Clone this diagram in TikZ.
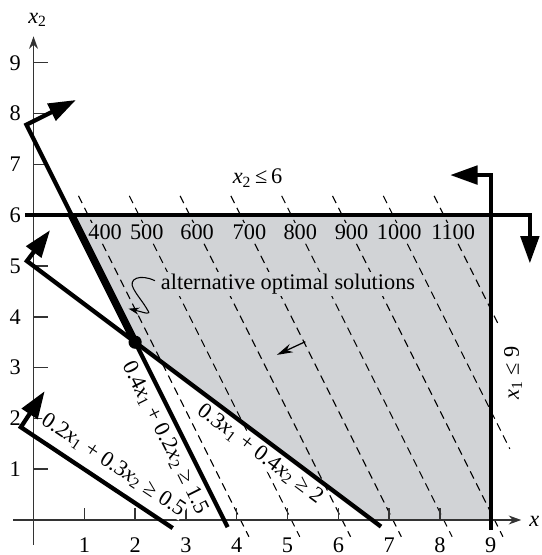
\documentclass[tikz,border=0pt]{standalone}
\usepackage{fontspec}
\setmainfont{Liberation Serif}
\usetikzlibrary{arrows.meta}
\definecolor{regionfill}{RGB}{209,211,214}
\newcommand\xv[1]{\textit{x}\textsubscript{#1}}
\begin{document}
\begin{tikzpicture}[x=1cm,y=1cm,
  font=\fontsize{12.5}{14}\selectfont,
  thickline/.style={line width=2.4pt, line join=miter},
  bigarrow/.style={-{Triangle[length=0.54cm,width=0.36cm]}},
  isoline/.style={line width=0.6pt, dash pattern=on 4.5pt off 3pt},
  axisline/.style={line width=0.8pt, black!80},
  axtick/.style={line width=0.8pt, black!80},
  ticklbl/.style={inner sep=0.5pt},
  costlbl/.style={fill=regionfill, inner sep=1pt},
  conlbl/.style={fill=white, inner sep=0.5pt}]
\useasboundingbox (-0.66,-0.689) rectangle (9.99,10.236);
% feasible region
\coordinate (P1) at (0.75,6);
\coordinate (P2) at (2,3.5);
\coordinate (P3) at (6.6667,0);
\coordinate (P4) at (9,0);
\coordinate (P5) at (9,6);
\fill[regionfill] (P1) -- (P2) -- (P3) -- (P4) -- (P5) -- cycle;
% iso-cost lines
\foreach \c/\b in {400/-0.33,500/-0.33,600/-0.33,700/-0.33,800/-0.33,900/-0.33,1000/1.4,1100/3.8}{
  \pgfmathsetmacro\k{\c/50+0.15}
  \draw[isoline] ({(\k-6.38)/2},6.38) -- ({(\k-\b)/2},\b);
}
% axes
\draw[axisline,-{Stealth[length=7pt,width=5pt]}] (-0.4,0) -- (9.6,0);
\draw[axisline,-{Stealth[length=7pt,width=5pt]}] (0,-0.49) -- (0,9.52);
\foreach \i in {1,...,8}{\draw[axtick] (\i,0) -- (\i,0.23);}
\foreach \i in {1,...,9}{\node[ticklbl] (xl\i) at (\i,-0.5) {\i};}
\foreach \j in {1,...,9}{\draw[axtick] (0,\j) -- (0.28,\j); \node[ticklbl] (yl\j) at (-0.36,\j) {\j};}
\node[ticklbl] (xlab) at (9.86,-0.03) {\textit{x}};
\node[ticklbl] (ylab) at (0.08,9.84) {\xv{2}};
% cost labels
\node[costlbl] (c400) at (1.41,5.67) {400};
\node[costlbl] (c500) at (2.23,5.67) {500};
\node[costlbl] (c600) at (3.22,5.67) {600};
\node[costlbl] (c700) at (4.25,5.67) {700};
\node[costlbl] (c800) at (5.25,5.67) {800};
\node[costlbl] (c900) at (6.26,5.67) {900};
\node[costlbl] (c1000) at (7.2,5.67) {1000};
\node[costlbl] (c1100) at (8.26,5.67) {1100};
\node[costlbl] (alt) at (5.01,4.65) {alternative optimal solutions};
% constraint labels
\node[conlbl, rotate=-33.69] (l1) at (1.57,1.08) {0.2\xv{1} + 0.3\xv{2} ≥ 0.5};
\node[conlbl, rotate=-63.43] (l2) at (2.59,1.62) {0.4\xv{1} + 0.2\xv{2} ≥ 1.5};
\node[conlbl, rotate=-36.87] (l3) at (4.46,1.30) {0.3\xv{1} + 0.4\xv{2} ≥ 2};
\node[rotate=90] (l4) at (9.44,2.89) {\xv{1} ≤ 9};
\node (l5) at (4.41,6.73) {\xv{2}\,≤\,6};
% constraint lines
\coordinate (c1a) at (2.74,-0.16);
\coordinate (c1b) at (-0.25,1.827);
\coordinate (c2a) at (3.82,-0.14);
\coordinate (c2b) at (-0.14,7.78);
\coordinate (c3a) at (6.84,-0.13);
\coordinate (c3b) at (-0.13,5.0975);
\draw[thickline,bigarrow] (c1a) -- (c1b) -- ++(0.47,0.71);
\draw[thickline,bigarrow] (c2a) -- (c2b) -- ++(0.975,0.4875);
\draw[thickline,bigarrow] (c3a) -- (c3b) -- ++(0.456,0.608);
\coordinate (h1) at (-0.17,6);
\coordinate (h2) at (9.77,6);
\draw[thickline,bigarrow] (h1) -- (h2) -- (9.77,5.05);
\coordinate (v1) at (9,-0.2);
\coordinate (v2) at (9,6.79);
\draw[thickline,bigarrow] (v1) -- (v2) -- (8.2,6.79);
% alternative optimal segment
\draw[line width=4.2pt] (P1) -- (P2);
\fill (P2) circle (0.13);
% pointer squiggle
\coordinate (sq0) at (2.39,4.71);
\coordinate (sq1) at (1.97,4.55);
\coordinate (sq2) at (2.24,4.14);
\coordinate (sq3) at (1.87,4.16);
\draw[line width=0.6pt,-{Stealth[length=6pt,width=4pt]}] (sq0) .. controls (2.1,4.85) and (1.85,4.75) .. (sq1) .. controls (2.05,4.4) and (2.15,4.3) .. (sq2) .. controls (2.33,4.02) and (2.2,4.08) .. (sq3);
% direction of decreasing cost
\coordinate (d0) at (5.35,3.51);
\coordinate (d1) at (4.79,3.25);
\draw[line width=0.7pt,-{Stealth[length=9pt,width=5pt]}] (d0) -- (d1);
\end{tikzpicture}
\end{document}
